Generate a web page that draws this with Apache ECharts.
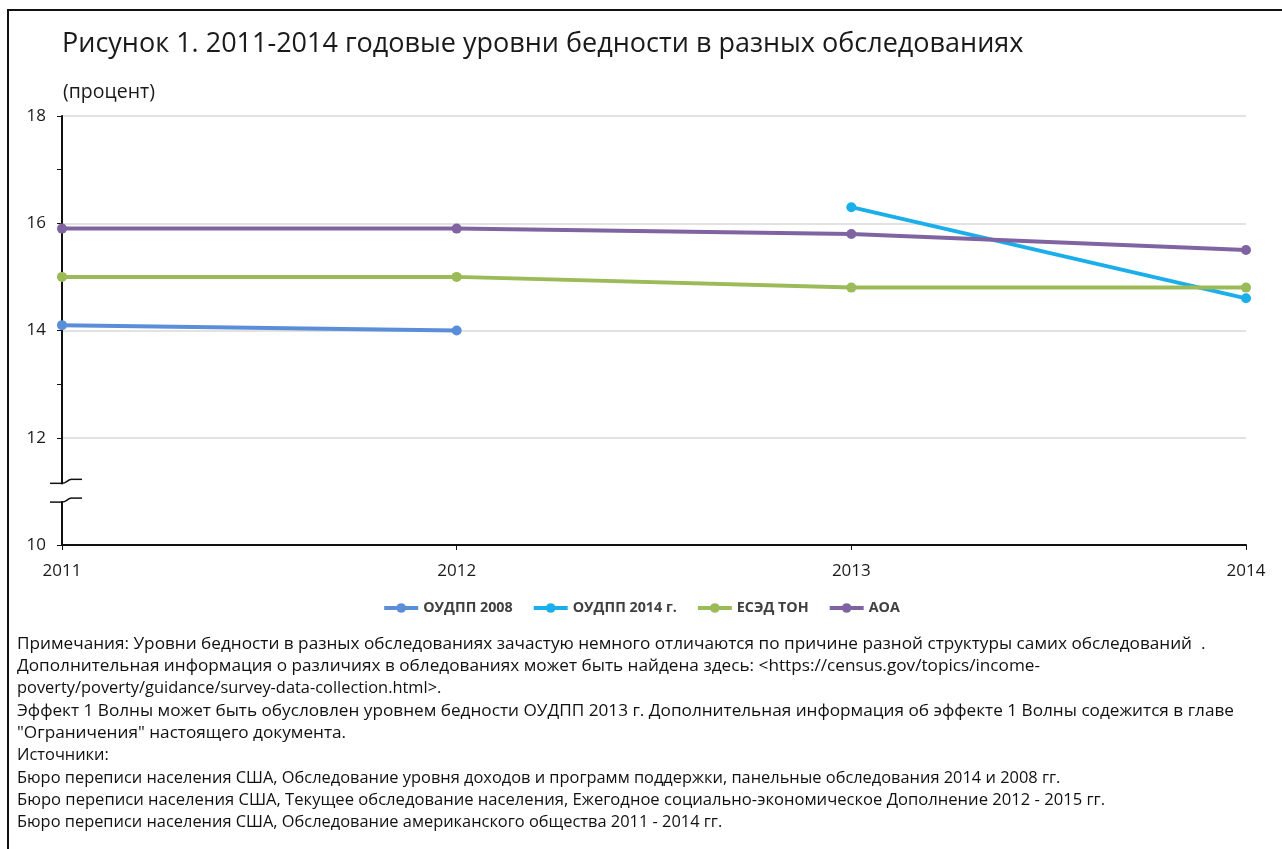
<!DOCTYPE html>
<html>
<head>
<meta charset="utf-8">
<script src="https://cdn.jsdelivr.net/npm/echarts@6/dist/echarts.min.js"></script>
<style>
  html, body { margin: 0; padding: 0; background: #fff; }
  #frame { position: absolute; left: 7px; top: 9px; width: 1275px; height: 840px;
           border-left: 2px solid #111; border-top: 2px solid #111; }
  #myChart { position: absolute; left: 0; top: 0; width: 1282px; height: 849px; }
</style>
</head>
<body>
<div id="frame"></div>
<div id="myChart"></div>
<script>
var years = ['2011', '2012', '2013', '2014'];
var sipp2008 = [14.1, 14.0, null, null];
var sipp2014 = [null, null, 16.3, 14.6];
var cpsAsec = [15.0, 15.0, 14.8, 14.8];
var acs = [15.9, 15.9, 15.8, 15.5];
var seriesNames = ['ОУДПП 2008', 'ОУДПП 2014 г.', 'ЕСЭД ТОН', 'АОА'];
var seriesColors = ['#5B8ED8', '#1AAEEA', '#9BBB59', '#8064A2'];
var yTicks = [10, 12, 14, 16, 18];

var noteLines = [
    'Примечания: Уровни бедности в разных обследованиях зачастую немного отличаются по причине разной структуры самих обследований  .',
    'Дополнительная информация о различиях в обледованиях может быть найдена здесь: <https://census.gov/topics/income-',
    'poverty/poverty/guidance/survey-data-collection.html>.',
    'Эффект 1 Волны может быть обусловлен уровнем бедности ОУДПП 2013 г. Дополнительная информация об эффекте 1 Волны содежится в главе',
    '"Ограничения" настоящего документа.',
    'Источники:',
    'Бюро переписи населения США, Обследование уровня доходов и программ поддержки, панельные обследования 2014 и 2008 гг.',
    'Бюро переписи населения США, Текущее обследование населения, Ежегодное социально-экономическое Дополнение 2012 - 2015 гг.',
    'Бюро переписи населения США, Обследование американского общества 2011 - 2014 гг.'
];
// font size per note line, roughly following the widths of the original lines
var noteSizes = [17.2, 17.2, 16.4, 17.2, 17.2, 16.4, 16.4, 16.6, 16.4];

window.onload = function () {
    var font = '"Open Sans", "Noto Sans", sans-serif';
    var myChart = echarts.init(document.getElementById('myChart'));
    var values = [sipp2008, sipp2014, cpsAsec, acs];

    var series = values.map(function (data, i) {
        return {
            name: seriesNames[i],
            type: 'line',
            data: data,
            symbol: 'circle',
            symbolSize: 10,
            color: seriesColors[i],
            lineStyle: { width: 4 },
            animation: false
        };
    });

    var noteRich = {};
    var noteText = noteLines.map(function (line, i) {
        noteRich['l' + i] = { fontSize: noteSizes[i], lineHeight: 22.3, color: '#111', fontFamily: font };
        return '{l' + i + '|' + line + '}';
    }).join('\n');

    var option = {
        textStyle: { fontFamily: font },
        title: [{
            text: 'Рисунок 1. 2011-2014 годовые уровни бедности в разных обследованиях',
            left: 57,
            top: 26,
            textStyle: { fontSize: 27, fontWeight: 'normal', color: '#1a1a1a', fontFamily: font }
        }, {
            text: '(процент)',
            left: 58,
            top: 77,
            textStyle: { fontSize: 19.5, fontWeight: 'normal', color: '#1a1a1a', fontFamily: font }
        }, {
            text: noteText,
            left: 12,
            top: 628,
            textStyle: { fontSize: 16.6, lineHeight: 22.3, fontWeight: 'normal', color: '#111', fontFamily: font, rich: noteRich }
        }],
        legend: {
            top: 596,
            left: 'center',
            itemWidth: 34,
            itemHeight: 12,
            itemGap: 19,
            data: seriesNames,
            lineStyle: { width: 4 },
            textStyle: { fontSize: 14.3, fontWeight: 'bold', color: '#404040', fontFamily: font }
        },
        grid: { left: 62, right: 36, top: 116, bottom: 304, containLabel: false },
        xAxis: {
            type: 'category',
            data: years,
            boundaryGap: false,
            axisLine: { lineStyle: { color: '#111', width: 2 } },
            axisTick: { show: true, length: 5, lineStyle: { color: '#111' } },
            axisLabel: { fontSize: 17, color: '#1a1a1a', margin: 18, fontFamily: font }
        },
        yAxis: {
            type: 'value',
            min: yTicks[0],
            max: yTicks[yTicks.length - 1],
            interval: 2,
            axisLine: { show: true, lineStyle: { color: '#111', width: 2 } },
            axisTick: { show: true, length: 5, lineStyle: { color: '#111' } },
            minorTick: { show: true, splitNumber: 2, length: 5, lineStyle: { color: '#111' } },
            splitLine: { lineStyle: { color: '#D9D9D9', width: 1.5 } },
            axisLabel: { fontSize: 17, color: '#1a1a1a', margin: 16, fontFamily: font }
        },
        series: series
    };
    myChart.setOption(option);

    // axis break symbol between 10 and 12
    var yHi = myChart.convertToPixel({ yAxisIndex: 0 }, 11.15);
    var yLo = myChart.convertToPixel({ yAxisIndex: 0 }, 10.8);
    var x0 = myChart.convertToPixel({ xAxisIndex: 0 }, 0);
    var breakStyle = { stroke: '#111', lineWidth: 1.5, fill: null };
    function breakMark(y) {
        return [{
            type: 'polyline',
            shape: { points: [[x0 - 12, y], [x0, y]] },
            style: breakStyle,
            z: 101
        }, {
            type: 'bezierCurve',
            shape: { x1: x0, y1: y, cpx1: x0 + 5, cpy1: y, cpx2: x0 + 5, cpy2: y - 4, x2: x0 + 10, y2: y - 4 },
            style: breakStyle,
            z: 101
        }, {
            type: 'polyline',
            shape: { points: [[x0 + 10, y - 4], [x0 + 20, y - 4]] },
            style: breakStyle,
            z: 101
        }];
    }
    var graphics = [{
        type: 'rect',
        shape: { x: x0 - 8, y: yHi + 1, width: 11, height: yLo - yHi - 2 },
        style: { fill: '#fff' },
        z: 100
    }].concat(breakMark(yHi), breakMark(yLo));
    myChart.setOption({ graphic: graphics });
};
</script>
</body>
</html>
